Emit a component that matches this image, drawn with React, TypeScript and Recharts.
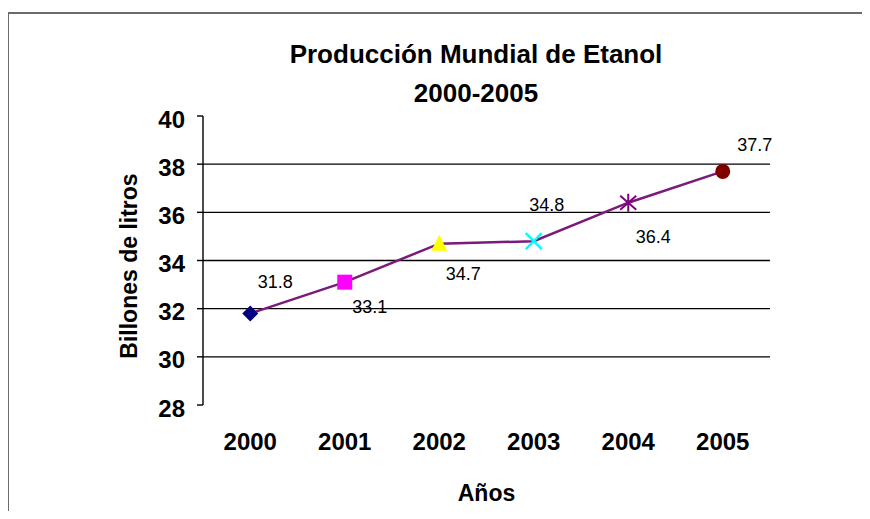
import { LineChart, Line, XAxis, YAxis, ReferenceLine, LabelList } from 'recharts'

const years = [2000, 2001, 2002, 2003, 2004, 2005]
const production = [31.8, 33.1, 34.7, 34.8, 36.4, 37.7]
const yTicks = [28, 30, 32, 34, 36, 38, 40]
const gridValues = [30, 32, 34, 36, 38]

const data = years.map((year, i) => ({ year, production: production[i] }))

// excel puts the x ticks between categories
const xDomain = [years[0] - 0.5, years[years.length - 1] + 0.5]
const boundaryTicks = [...years.map((y) => y - 0.5), years[years.length - 1] + 0.5]

const markerStyles = [
  { shape: 'diamond', color: '#000080' },
  { shape: 'square', color: '#FF00FF' },
  { shape: 'triangle', color: '#FFFF00' },
  { shape: 'x', color: '#00FFFF' },
  { shape: 'star', color: '#800080' },
  { shape: 'circle', color: '#800000' },
]

// where each value label sits relative to its point
const labelOffsets = [
  [25, -31],
  [25, 25],
  [24, 30],
  [13, -36],
  [25, 34],
  [32, -26],
]

const font = 'Liberation Sans, Arial, sans-serif'

function Marker(props: any) {
  const { cx, cy, index } = props
  if (cx == null || cy == null) return null
  const m = markerStyles[index]
  const k = `m-${index}`
  switch (m.shape) {
    case 'diamond':
      return <path key={k} d={`M${cx},${cy - 8}L${cx + 8},${cy}L${cx},${cy + 8}L${cx - 8},${cy}Z`} fill={m.color} />
    case 'square':
      return <rect key={k} x={cx - 7.5} y={cy - 7.5} width={15} height={15} fill={m.color} />
    case 'triangle':
      return <path key={k} d={`M${cx},${cy - 9}L${cx + 8},${cy + 7}L${cx - 8},${cy + 7}Z`} fill={m.color} />
    case 'x':
      return (
        <path key={k} d={`M${cx - 8},${cy - 8}L${cx + 8},${cy + 8}M${cx + 8},${cy - 8}L${cx - 8},${cy + 8}`} stroke={m.color} strokeWidth={2.5} />
      )
    case 'star':
      return (
        <path
          key={k}
          d={`M${cx - 8},${cy - 7}L${cx + 8},${cy + 7}M${cx + 8},${cy - 7}L${cx - 8},${cy + 7}M${cx},${cy - 9}L${cx},${cy + 9}`}
          stroke={m.color}
          strokeWidth={2}
        />
      )
    default:
      return <circle key={k} cx={cx} cy={cy} r={7.5} fill={m.color} />
  }
}

function ValueLabel(props: any) {
  const { x, y, value, index } = props
  const [dx, dy] = labelOffsets[index]
  return (
    <text x={x + dx} y={y + dy} textAnchor="middle" dominantBaseline="central" fontSize={18} fontFamily={font} fill="#000">
      {value}
    </text>
  )
}

export default function App() {
  return (
    <div style={{ position: 'relative', width: 870, height: 519, margin: -8, background: '#fff', overflow: 'hidden' }}>
      <LineChart width={870} height={519} data={data} margin={{ top: 116, right: 100, bottom: 14, left: 117 }}>
        {gridValues.map((v) => (
          <ReferenceLine key={v} y={v} stroke="#000" strokeWidth={1.4} />
        ))}
        <XAxis
          xAxisId="bounds"
          type="number"
          domain={xDomain}
          ticks={boundaryTicks}
          interval={0}
          tick={false}
          tickSize={6}
          height={0}
          stroke="#000"
          strokeWidth={1.4}
        />
        <XAxis
          dataKey="year"
          type="number"
          domain={xDomain}
          ticks={years}
          interval={0}
          axisLine={false}
          tickLine={false}
          tickSize={0}
          tickMargin={28}
          height={100}
          tick={{ fontSize: 24, fontWeight: 'bold', fill: '#000', fontFamily: font }}
          label={{ value: 'Años', position: 'insideBottom', offset: 4, style: { fontSize: 23, fontWeight: 'bold', fill: '#000', fontFamily: font } }}
        />
        <YAxis
          type="number"
          domain={[28, 40]}
          ticks={yTicks}
          interval={0}
          width={86}
          tickSize={6}
          tickMargin={12}
          stroke="#000"
          strokeWidth={1.4}
          tick={{ fontSize: 24, fontWeight: 'bold', fill: '#000', fontFamily: font, dy: 3 }}
        />
        <Line
          type="linear"
          dataKey="production"
          stroke="#7a1a7a"
          strokeWidth={2.5}
          dot={Marker}
          activeDot={false}
          isAnimationActive={false}
        >
          <LabelList dataKey="production" content={ValueLabel} />
        </Line>
      </LineChart>
      <svg width={870} height={519} style={{ position: 'absolute', left: 0, top: 0, pointerEvents: 'none' }}>
        <path d="M8,600L8,13L900,13" fill="none" stroke="#6b6b6b" strokeWidth={2} />
        <text x={476} y={63} textAnchor="middle" fontSize={26} fontWeight="bold" fontFamily={font} fill="#000">
          Producción Mundial de Etanol
        </text>
        <text x={476} y={102} textAnchor="middle" fontSize={26} fontWeight="bold" fontFamily={font} fill="#000">
          2000-2005
        </text>
        <text transform="translate(137,266) rotate(-90)" textAnchor="middle" fontSize={23} fontWeight="bold" fontFamily={font} fill="#000">
          Billones de litros
        </text>
      </svg>
    </div>
  )
}
